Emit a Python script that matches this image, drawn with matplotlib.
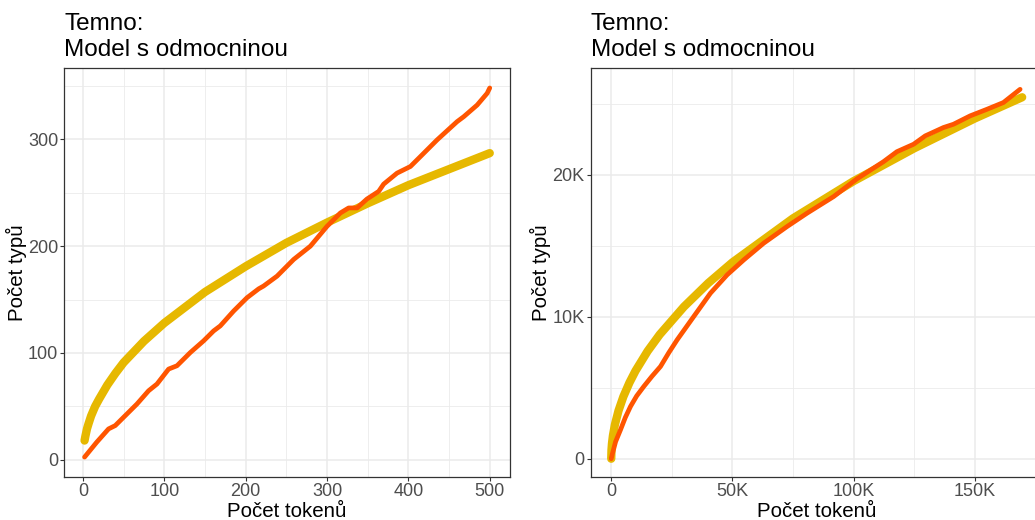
import matplotlib
matplotlib.use("Agg")
import matplotlib.pyplot as plt
from matplotlib.ticker import MultipleLocator, FuncFormatter

plt.rcParams['font.family'] = ['Liberation Sans', 'DejaVu Sans']

# ---- Left panel data (first 500 tokens) ----
left_obs_x = [2, 17, 31.5, 39.7, 50, 66.4, 80.7, 91, 105.3, 115.6, 132, 148.3, 160.6, 168.8,
              185.2, 201.7, 216, 222, 238.6, 259, 279.5, 300, 316.4, 326.6, 337, 349, 363.5,
              369.6, 386.1, 402.5, 414.8, 435.3, 459.9, 468, 484.5, 496.8, 500]
left_obs_y = [2.5, 16.5, 28.9, 32, 39.8, 52.2, 64.6, 70.9, 84.9, 88, 100.4, 111.3, 120.6, 125.3,
              139.2, 151.7, 160, 162.6, 171.9, 187.5, 199.9, 218.5, 231, 235.7, 235.7, 244, 251.2,
              258, 268.3, 274.5, 283.8, 299.4, 316.5, 321.1, 332, 343, 348]
left_mod_x = [2, 3, 5, 7, 10, 15, 20, 30, 40, 50, 75, 100, 150, 200, 250, 300, 350, 400, 450, 500]
left_mod_y = [18, 22, 29, 34, 41, 50, 57, 70, 81, 91, 111, 128, 157, 181, 203, 222, 240, 257, 272, 287]

# ---- Right panel data (whole text) ----
right_obs_x = [0, 400, 1800, 3830, 5800, 7950, 10500, 13430, 16800, 20310, 23700, 27190, 34040,
               40910, 47790, 54640, 62880, 72520, 80760, 91740, 101360, 112330, 117840, 124680,
               129510, 137040, 141160, 148040, 154920, 161770, 168650]
right_obs_y = [0, 300, 1200, 2040, 2900, 3680, 4420, 5085, 5800, 6490, 7450, 8370, 10010,
               11650, 12940, 13990, 15170, 16340, 17280, 18450, 19700, 20910, 21610, 22130,
               22720, 23310, 23540, 24130, 24590, 25070, 26000]
right_mod_x = [0, 100, 300, 700, 1500, 3000, 5000, 7500, 10000, 15000, 20000, 30000, 40000,
               50000, 75000, 100000, 125000, 150000, 169500]
right_mod_y = [0, 620, 1070, 1630, 2390, 3380, 4370, 5350, 6180, 7570, 8740, 10700, 12360,
               13820, 16920, 19540, 21850, 23950, 25440]

title = "Temno:\nModel s odmocninou"
xlabel = "Počet tokenů"
ylabel = "Počet typů"

ORANGE = "#FF5500"
YELLOW = "#E6B800"
GRID = "#EBEBEB"
DARK = "#333333"

W, H = 1035, 520
fig = plt.figure(figsize=(W / 100, H / 100), dpi=100)


def px_axes(l, r, t, b):
    return fig.add_axes([l / W, (H - b) / H, (r - l) / W, (b - t) / H])


def style(ax, xmaj, xmin_, ymaj, ymin_):
    ax.set_facecolor("white")
    for s in ax.spines.values():
        s.set_color(DARK)
        s.set_linewidth(0.9)
    ax.xaxis.set_major_locator(MultipleLocator(xmaj))
    ax.xaxis.set_minor_locator(MultipleLocator(xmin_))
    ax.yaxis.set_major_locator(MultipleLocator(ymaj))
    ax.yaxis.set_minor_locator(MultipleLocator(ymin_))
    ax.grid(which="major", color=GRID, linewidth=1.1)
    ax.grid(which="minor", color=GRID, linewidth=0.6)
    ax.set_axisbelow(True)
    ax.tick_params(which="major", length=2.75, width=0.8, color=DARK,
                   labelsize=13, labelcolor="#4D4D4D", pad=1.6)
    ax.tick_params(which="minor", length=0)
    ax.set_xlabel(xlabel, fontsize=14.8, color="black", labelpad=1.5)
    ax.set_ylabel(ylabel, fontsize=14.8, color="black", labelpad=1)
    ax.set_title(title, loc="left", fontsize=17.5, color="black", pad=9, linespacing=1.2)


def expand(lo, hi, f=0.05):
    d = hi - lo
    return lo - f * d, hi + f * d


# Left panel
ax1 = px_axes(64.3, 510, 68.3, 477.3)
ax1.plot(left_mod_x, left_mod_y, color=YELLOW, lw=6, solid_capstyle="round", solid_joinstyle="round")
ax1.plot(left_obs_x, left_obs_y, color=ORANGE, lw=3.4, solid_capstyle="round", solid_joinstyle="round")
style(ax1, 100, 50, 100, 50)
ax1.set_xlim(*expand(2, 500))
ax1.set_ylim(*expand(1, 349))

# Right panel (extends beyond the figure edge, as in the reference)
ax2 = px_axes(590.7, 1042.7, 68.3, 477.3)
ax2.plot(right_mod_x, right_mod_y, color=YELLOW, lw=6, solid_capstyle="round", solid_joinstyle="round")
ax2.plot(right_obs_x, right_obs_y, color=ORANGE, lw=3.4, solid_capstyle="round", solid_joinstyle="round")
style(ax2, 50000, 25000, 10000, 5000)
kfmt = FuncFormatter(lambda v, p: "0" if v == 0 else f"{int(round(v / 1000))}K")
ax2.xaxis.set_major_formatter(kfmt)
ax2.yaxis.set_major_formatter(kfmt)
ax2.set_xlim(*expand(0, 169500))
ax2.set_ylim(*expand(0, 26170))

fig.savefig("out.png", dpi=100)
